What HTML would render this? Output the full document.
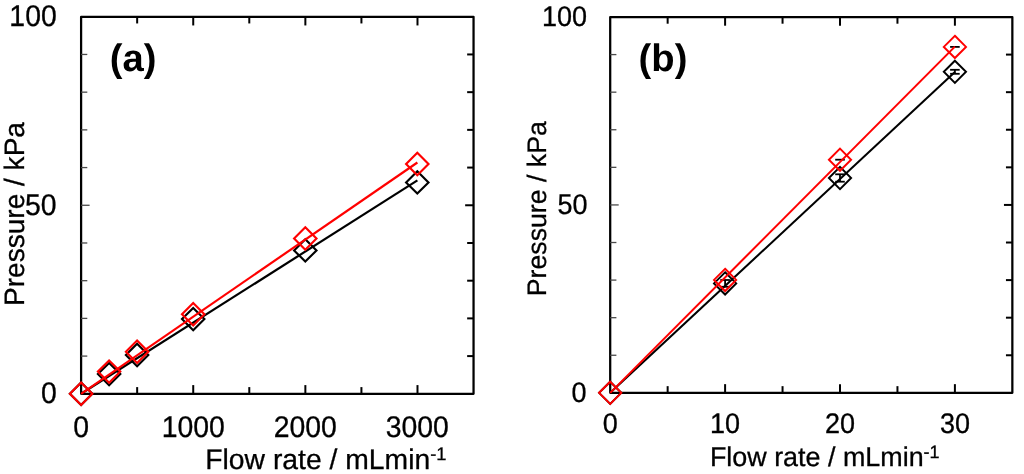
<!DOCTYPE html>
<html><head><meta charset="utf-8"><title>Pressure vs flow rate</title>
<style>
html,body{margin:0;padding:0;background:#fff;}
body{width:1024px;height:474px;overflow:hidden;}
svg{display:block;}
svg text{font-family:"Liberation Sans", Arial, Helvetica, sans-serif;fill:#000;stroke:#000;stroke-width:0.3px;text-rendering:geometricPrecision;}
svg{will-change:transform;}
</style></head>
<body>
<svg width="1024" height="474" viewBox="0 0 1024 474">
<rect x="0" y="0" width="1024" height="474" fill="#fff"/>
<rect x="81.10" y="16.75" width="392.45" height="377.05" fill="none" stroke="#000" stroke-width="2.25" stroke-linejoin="round"/>
<line x1="137.16" y1="393.80" x2="137.16" y2="387.10" stroke="#000" stroke-width="2"/>
<line x1="137.16" y1="16.75" x2="137.16" y2="23.45" stroke="#000" stroke-width="2"/>
<line x1="193.23" y1="393.80" x2="193.23" y2="385.10" stroke="#000" stroke-width="2"/>
<line x1="193.23" y1="16.75" x2="193.23" y2="25.45" stroke="#000" stroke-width="2"/>
<line x1="249.29" y1="393.80" x2="249.29" y2="387.10" stroke="#000" stroke-width="2"/>
<line x1="249.29" y1="16.75" x2="249.29" y2="23.45" stroke="#000" stroke-width="2"/>
<line x1="305.36" y1="393.80" x2="305.36" y2="385.10" stroke="#000" stroke-width="2"/>
<line x1="305.36" y1="16.75" x2="305.36" y2="25.45" stroke="#000" stroke-width="2"/>
<line x1="361.42" y1="393.80" x2="361.42" y2="387.10" stroke="#000" stroke-width="2"/>
<line x1="361.42" y1="16.75" x2="361.42" y2="23.45" stroke="#000" stroke-width="2"/>
<line x1="417.49" y1="393.80" x2="417.49" y2="385.10" stroke="#000" stroke-width="2"/>
<line x1="417.49" y1="16.75" x2="417.49" y2="25.45" stroke="#000" stroke-width="2"/>
<line x1="81.10" y1="54.45" x2="87.30" y2="54.45" stroke="#4a4a4a" stroke-width="1.3"/>
<line x1="473.55" y1="54.45" x2="467.15" y2="54.45" stroke="#000" stroke-width="2"/>
<line x1="81.10" y1="92.16" x2="87.30" y2="92.16" stroke="#4a4a4a" stroke-width="1.3"/>
<line x1="473.55" y1="92.16" x2="467.15" y2="92.16" stroke="#000" stroke-width="2"/>
<line x1="81.10" y1="129.87" x2="87.30" y2="129.87" stroke="#4a4a4a" stroke-width="1.3"/>
<line x1="473.55" y1="129.87" x2="467.15" y2="129.87" stroke="#000" stroke-width="2"/>
<line x1="81.10" y1="167.57" x2="87.30" y2="167.57" stroke="#4a4a4a" stroke-width="1.3"/>
<line x1="473.55" y1="167.57" x2="467.15" y2="167.57" stroke="#000" stroke-width="2"/>
<line x1="81.10" y1="205.27" x2="89.60" y2="205.27" stroke="#4a4a4a" stroke-width="1.3"/>
<line x1="473.55" y1="205.27" x2="465.15" y2="205.27" stroke="#000" stroke-width="2"/>
<line x1="81.10" y1="242.98" x2="87.30" y2="242.98" stroke="#4a4a4a" stroke-width="1.3"/>
<line x1="473.55" y1="242.98" x2="467.15" y2="242.98" stroke="#000" stroke-width="2"/>
<line x1="81.10" y1="280.69" x2="87.30" y2="280.69" stroke="#4a4a4a" stroke-width="1.3"/>
<line x1="473.55" y1="280.69" x2="467.15" y2="280.69" stroke="#000" stroke-width="2"/>
<line x1="81.10" y1="318.39" x2="87.30" y2="318.39" stroke="#4a4a4a" stroke-width="1.3"/>
<line x1="473.55" y1="318.39" x2="467.15" y2="318.39" stroke="#000" stroke-width="2"/>
<line x1="81.10" y1="356.09" x2="87.30" y2="356.09" stroke="#4a4a4a" stroke-width="1.3"/>
<line x1="473.55" y1="356.09" x2="467.15" y2="356.09" stroke="#000" stroke-width="2"/>
<polyline points="81.10,393.80 417.40,180.40" fill="none" stroke="#000" stroke-width="2.2" stroke-linejoin="round"/>
<path d="M81.10 382.60L92.30 393.80L81.10 405.00L69.90 393.80Z" fill="none" stroke="#000" stroke-width="2.15" stroke-linejoin="miter"/>
<path d="M109.10 362.90L120.30 374.10L109.10 385.30L97.90 374.10Z" fill="none" stroke="#000" stroke-width="2.15" stroke-linejoin="miter"/>
<path d="M137.10 343.80L148.30 355.00L137.10 366.20L125.90 355.00Z" fill="none" stroke="#000" stroke-width="2.15" stroke-linejoin="miter"/>
<path d="M193.20 307.90L204.40 319.10L193.20 330.30L182.00 319.10Z" fill="none" stroke="#000" stroke-width="2.15" stroke-linejoin="miter"/>
<path d="M305.30 239.20L316.50 250.40L305.30 261.60L294.10 250.40Z" fill="none" stroke="#000" stroke-width="2.15" stroke-linejoin="miter"/>
<path d="M417.30 171.20L428.50 182.40L417.30 193.60L406.10 182.40Z" fill="none" stroke="#000" stroke-width="2.15" stroke-linejoin="miter"/>
<polyline points="81.10,393.80 417.40,162.50" fill="none" stroke="#f00" stroke-width="2.2" stroke-linejoin="round"/>
<path d="M81.10 382.60L92.30 393.80L81.10 405.00L69.90 393.80Z" fill="none" stroke="#f00" stroke-width="2.15" stroke-linejoin="miter"/>
<path d="M109.10 360.40L120.30 371.60L109.10 382.80L97.90 371.60Z" fill="none" stroke="#f00" stroke-width="2.15" stroke-linejoin="miter"/>
<path d="M137.10 340.60L148.30 351.80L137.10 363.00L125.90 351.80Z" fill="none" stroke="#f00" stroke-width="2.15" stroke-linejoin="miter"/>
<path d="M193.20 303.00L204.40 314.20L193.20 325.40L182.00 314.20Z" fill="none" stroke="#f00" stroke-width="2.15" stroke-linejoin="miter"/>
<path d="M305.30 227.30L316.50 238.50L305.30 249.70L294.10 238.50Z" fill="none" stroke="#f00" stroke-width="2.15" stroke-linejoin="miter"/>
<path d="M417.30 152.80L428.50 164.00L417.30 175.20L406.10 164.00Z" fill="none" stroke="#f00" stroke-width="2.15" stroke-linejoin="miter"/>
<rect x="610.20" y="17.00" width="402.15" height="375.85" fill="none" stroke="#000" stroke-width="2.25" stroke-linejoin="round"/>
<line x1="667.65" y1="392.85" x2="667.65" y2="386.15" stroke="#000" stroke-width="2"/>
<line x1="667.65" y1="17.00" x2="667.65" y2="23.70" stroke="#000" stroke-width="2"/>
<line x1="725.10" y1="392.85" x2="725.10" y2="384.15" stroke="#000" stroke-width="2"/>
<line x1="725.10" y1="17.00" x2="725.10" y2="25.70" stroke="#000" stroke-width="2"/>
<line x1="782.55" y1="392.85" x2="782.55" y2="386.15" stroke="#000" stroke-width="2"/>
<line x1="782.55" y1="17.00" x2="782.55" y2="23.70" stroke="#000" stroke-width="2"/>
<line x1="840.00" y1="392.85" x2="840.00" y2="384.15" stroke="#000" stroke-width="2"/>
<line x1="840.00" y1="17.00" x2="840.00" y2="25.70" stroke="#000" stroke-width="2"/>
<line x1="897.45" y1="392.85" x2="897.45" y2="386.15" stroke="#000" stroke-width="2"/>
<line x1="897.45" y1="17.00" x2="897.45" y2="23.70" stroke="#000" stroke-width="2"/>
<line x1="954.90" y1="392.85" x2="954.90" y2="384.15" stroke="#000" stroke-width="2"/>
<line x1="954.90" y1="17.00" x2="954.90" y2="25.70" stroke="#000" stroke-width="2"/>
<line x1="610.20" y1="54.59" x2="616.40" y2="54.59" stroke="#4a4a4a" stroke-width="1.3"/>
<line x1="1012.35" y1="54.59" x2="1005.95" y2="54.59" stroke="#000" stroke-width="2"/>
<line x1="610.20" y1="92.17" x2="616.40" y2="92.17" stroke="#4a4a4a" stroke-width="1.3"/>
<line x1="1012.35" y1="92.17" x2="1005.95" y2="92.17" stroke="#000" stroke-width="2"/>
<line x1="610.20" y1="129.75" x2="616.40" y2="129.75" stroke="#4a4a4a" stroke-width="1.3"/>
<line x1="1012.35" y1="129.75" x2="1005.95" y2="129.75" stroke="#000" stroke-width="2"/>
<line x1="610.20" y1="167.34" x2="616.40" y2="167.34" stroke="#4a4a4a" stroke-width="1.3"/>
<line x1="1012.35" y1="167.34" x2="1005.95" y2="167.34" stroke="#000" stroke-width="2"/>
<line x1="610.20" y1="204.93" x2="618.70" y2="204.93" stroke="#4a4a4a" stroke-width="1.3"/>
<line x1="1012.35" y1="204.93" x2="1003.95" y2="204.93" stroke="#000" stroke-width="2"/>
<line x1="610.20" y1="242.51" x2="616.40" y2="242.51" stroke="#4a4a4a" stroke-width="1.3"/>
<line x1="1012.35" y1="242.51" x2="1005.95" y2="242.51" stroke="#000" stroke-width="2"/>
<line x1="610.20" y1="280.10" x2="616.40" y2="280.10" stroke="#4a4a4a" stroke-width="1.3"/>
<line x1="1012.35" y1="280.10" x2="1005.95" y2="280.10" stroke="#000" stroke-width="2"/>
<line x1="610.20" y1="317.68" x2="616.40" y2="317.68" stroke="#4a4a4a" stroke-width="1.3"/>
<line x1="1012.35" y1="317.68" x2="1005.95" y2="317.68" stroke="#000" stroke-width="2"/>
<line x1="610.20" y1="355.26" x2="616.40" y2="355.26" stroke="#4a4a4a" stroke-width="1.3"/>
<line x1="1012.35" y1="355.26" x2="1005.95" y2="355.26" stroke="#000" stroke-width="2"/>
<polyline points="610.20,392.85 954.90,72.00" fill="none" stroke="#000" stroke-width="2.05" stroke-linejoin="round"/>
<path d="M610.20 381.75L621.30 392.85L610.20 403.95L599.10 392.85Z" fill="none" stroke="#000" stroke-width="1.95" stroke-linejoin="miter"/>
<path d="M725.10 272.30L736.20 283.40L725.10 294.50L714.00 283.40Z" fill="none" stroke="#000" stroke-width="1.95" stroke-linejoin="miter"/>
<path d="M840.00 166.90L851.10 178.00L840.00 189.10L828.90 178.00Z" fill="none" stroke="#000" stroke-width="1.95" stroke-linejoin="miter"/>
<path d="M954.90 60.70L966.00 71.80L954.90 82.90L943.80 71.80Z" fill="none" stroke="#000" stroke-width="1.95" stroke-linejoin="miter"/>
<line x1="725.10" y1="280.00" x2="725.10" y2="286.80" stroke="#000" stroke-width="1.8"/>
<line x1="720.30" y1="280.00" x2="729.90" y2="280.00" stroke="#000" stroke-width="1.8"/>
<line x1="720.30" y1="286.80" x2="729.90" y2="286.80" stroke="#000" stroke-width="1.8"/>
<line x1="840.00" y1="174.30" x2="840.00" y2="181.70" stroke="#000" stroke-width="1.8"/>
<line x1="835.20" y1="174.30" x2="844.80" y2="174.30" stroke="#000" stroke-width="1.8"/>
<line x1="835.20" y1="181.70" x2="844.80" y2="181.70" stroke="#000" stroke-width="1.8"/>
<line x1="954.90" y1="69.80" x2="954.90" y2="73.80" stroke="#000" stroke-width="1.8"/>
<line x1="950.10" y1="69.80" x2="959.70" y2="69.80" stroke="#000" stroke-width="1.8"/>
<line x1="950.10" y1="73.80" x2="959.70" y2="73.80" stroke="#000" stroke-width="1.8"/>
<line x1="835.20" y1="159.70" x2="844.80" y2="159.70" stroke="#000" stroke-width="1.8"/>
<line x1="950.10" y1="46.90" x2="959.70" y2="46.90" stroke="#000" stroke-width="1.8"/>
<polyline points="610.20,392.85 954.90,46.60" fill="none" stroke="#f00" stroke-width="2.05" stroke-linejoin="round"/>
<path d="M610.20 381.75L621.30 392.85L610.20 403.95L599.10 392.85Z" fill="none" stroke="#f00" stroke-width="1.95" stroke-linejoin="miter"/>
<path d="M725.10 268.80L736.20 279.90L725.10 291.00L714.00 279.90Z" fill="none" stroke="#f00" stroke-width="1.95" stroke-linejoin="miter"/>
<path d="M840.00 148.60L851.10 159.70L840.00 170.80L828.90 159.70Z" fill="none" stroke="#f00" stroke-width="1.95" stroke-linejoin="miter"/>
<path d="M954.90 35.80L966.00 46.90L954.90 58.00L943.80 46.90Z" fill="none" stroke="#f00" stroke-width="1.95" stroke-linejoin="miter"/>
<text transform="translate(56.70,26.10) scale(0.985,1.035)" font-size="28.8" text-anchor="end" font-weight="normal" >100</text>
<text transform="translate(56.50,215.20) scale(0.985,1.035)" font-size="28.8" text-anchor="end" font-weight="normal" >50</text>
<text transform="translate(56.90,402.80) scale(0.985,1.035)" font-size="28.8" text-anchor="end" font-weight="normal" >0</text>
<text transform="translate(81.10,436.80) scale(0.985,1.035)" font-size="28.8" text-anchor="middle" font-weight="normal" >0</text>
<text transform="translate(193.20,436.80) scale(0.985,1.035)" font-size="28.8" text-anchor="middle" font-weight="normal" >1000</text>
<text transform="translate(305.30,436.80) scale(0.985,1.035)" font-size="28.8" text-anchor="middle" font-weight="normal" >2000</text>
<text transform="translate(417.30,436.80) scale(0.985,1.035)" font-size="28.8" text-anchor="middle" font-weight="normal" >3000</text>
<text transform="translate(205.30,468.80) scale(1.0,1.0)" font-size="28.3" text-anchor="start" font-weight="normal" >Flow rate / mLmin<tspan font-size="18.3" dy="-9">-1</tspan></text>
<text transform="translate(23.9,306.0) rotate(-90)" font-size="28.05">Pressure / kPa</text>
<text transform="translate(109.80,70.50) scale(1.0,1.0)" font-size="38.2" text-anchor="start" font-weight="bold" style="stroke:none">(a)</text>
<text transform="translate(587.10,26.10) scale(0.985,1.035)" font-size="27.4" text-anchor="end" font-weight="normal" >100</text>
<text transform="translate(587.60,213.80) scale(0.985,1.035)" font-size="27.4" text-anchor="end" font-weight="normal" >50</text>
<text transform="translate(586.40,401.90) scale(0.985,1.035)" font-size="27.4" text-anchor="end" font-weight="normal" >0</text>
<text transform="translate(610.20,433.40) scale(0.985,1.035)" font-size="27.4" text-anchor="middle" font-weight="normal" >0</text>
<text transform="translate(725.10,433.40) scale(0.985,1.035)" font-size="27.4" text-anchor="middle" font-weight="normal" >10</text>
<text transform="translate(840.00,433.40) scale(0.985,1.035)" font-size="27.4" text-anchor="middle" font-weight="normal" >20</text>
<text transform="translate(954.90,433.40) scale(0.985,1.035)" font-size="27.4" text-anchor="middle" font-weight="normal" >30</text>
<text transform="translate(709.90,466.40) scale(1.0,1.0)" font-size="26.9" text-anchor="start" font-weight="normal" >Flow rate / mLmin<tspan font-size="18" dy="-8.6">-1</tspan></text>
<text transform="translate(546.2,296.2) rotate(-90)" font-size="26.7">Pressure / kPa</text>
<text transform="translate(638.60,70.50) scale(1.0,1.0)" font-size="38.2" text-anchor="start" font-weight="bold" style="stroke:none">(b)</text>
</svg>
</body></html>
